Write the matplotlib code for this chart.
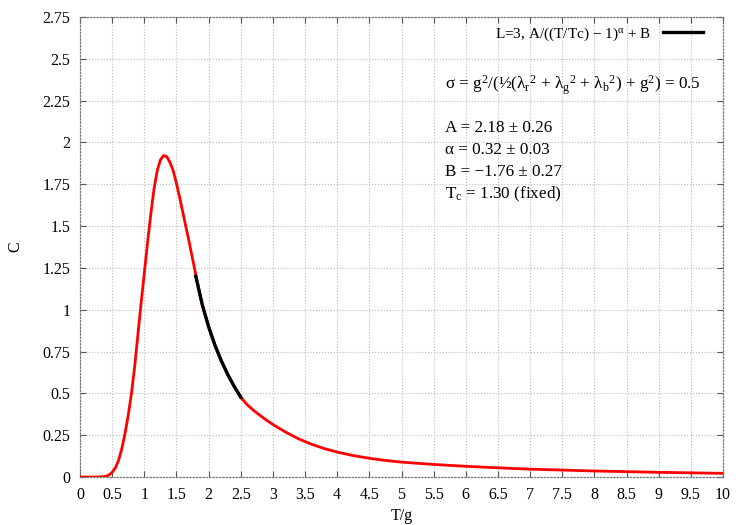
"""Specific heat C(T/g) for L=3 with the critical power-law fit segment."""

import matplotlib

matplotlib.use("Agg")
import matplotlib.pyplot as plt

t_data = [0.0, 0.3, 0.4, 0.45, 0.5, 0.55, 0.6, 0.65, 0.7, 0.75, 0.8, 0.85,
          0.9, 0.95, 1.0, 1.05, 1.1, 1.15, 1.2, 1.25, 1.3, 1.35, 1.4, 1.45,
          1.5, 1.55, 1.6, 1.65, 1.7, 1.75, 1.8, 1.9, 2.0, 2.1, 2.2, 2.3,
          2.4, 2.5, 2.6, 2.7, 2.8, 2.9, 3.0, 3.2, 3.4, 3.6, 3.8, 4.0, 4.25,
          4.5, 4.75, 5.0, 5.5, 6.0, 6.5, 7.0, 8.0, 9.0, 10.0]
c_data = [0.0, 0.0, 0.004, 0.012, 0.028, 0.055, 0.10, 0.17, 0.26, 0.37,
          0.50, 0.66, 0.85, 1.04, 1.22, 1.40, 1.57, 1.72, 1.83, 1.895,
          1.922, 1.915, 1.88, 1.83, 1.755, 1.67, 1.58, 1.49, 1.40, 1.305,
          1.21, 1.03, 0.90, 0.786, 0.692, 0.611, 0.54, 0.477, 0.432, 0.398,
          0.368, 0.34, 0.314, 0.268, 0.228, 0.196, 0.170, 0.149, 0.128,
          0.112, 0.099, 0.089, 0.075, 0.064, 0.055, 0.047, 0.036, 0.028,
          0.022]

# fit segment A/((T/Tc)-1)^alpha + B, sampled on its fit window
t_fit = [1.8, 1.9, 2.0, 2.1, 2.2, 2.3, 2.4, 2.5]
c_fit = [1.20, 1.032, 0.898, 0.786, 0.692, 0.611, 0.540, 0.477]

x_ticks = [i * 0.5 for i in range(21)]
y_ticks = [i * 0.25 for i in range(12)]
x_labels = ["0", "0.5", "1", "1.5", "2", "2.5", "3", "3.5", "4", "4.5", "5",
            "5.5", "6", "6.5", "7", "7.5", "8", "8.5", "9", "9.5", "10"]
y_labels = ["0", "0.25", "0.5", "0.75", "1", "1.25", "1.5", "1.75", "2",
            "2.25", "2.5", "2.75"]

plt.rcParams["font.family"] = ["Liberation Serif", "DejaVu Serif"]
plt.rcParams["mathtext.fontset"] = "custom"
plt.rcParams["mathtext.rm"] = "Liberation Serif"
plt.rcParams["mathtext.it"] = "Liberation Serif"
plt.rcParams["font.size"] = 11.5

fig = plt.figure(figsize=(7.5, 5.25), dpi=100)
ax = fig.add_axes([0.1067, 0.0914, 0.8573, 0.8762])

ax.plot(t_data, c_data, color="#ff0000", lw=2.0, zorder=3)
ax.plot(t_fit, c_fit, color="black", lw=2.4, zorder=4,
        label="L=3, A/((T/Tc) \u2212 1)$^{\\alpha}$ + B")

ax.set_xlim(0, 10)
ax.set_ylim(0, 2.75)
ax.set_xticks(x_ticks)
ax.set_xticklabels(x_labels)
ax.set_yticks(y_ticks)
ax.set_yticklabels(y_labels)
ax.tick_params(direction="in", length=4, width=0.8, color="#555555",
               top=True, right=True, pad=7)
ax.grid(True, linestyle=":", color="#bbbbbb", lw=0.8)
for sp in ax.spines.values():
    sp.set_linestyle(":")
    sp.set_color("#777777")
    sp.set_linewidth(0.9)

ax.set_xlabel("T/g", labelpad=4)
ax.set_ylabel("C", labelpad=14)

leg = ax.legend(loc="upper right", frameon=False, markerfirst=False,
                handlelength=2.6, bbox_to_anchor=(0.99, 1.012), fontsize=11)

ax.text(0.567, 0.852,
        "\u03c3 = g$^{2}$/(\u00bd(\u03bb$_{\\mathrm{r}}{}^{2}$ + \u03bb$_{\\mathrm{g}}{}^{2}$"
        " + \u03bb$_{\\mathrm{b}}{}^{2}$) + g$^{2}$) = 0.5",
        transform=ax.transAxes, fontsize=12.3, va="center")
fit_lines = ["A = 2.18 \u00b1 0.26", "\u03b1 = 0.32 \u00b1 0.03",
             "B = \u22121.76 \u00b1 0.27", "T$_{\\mathrm{c}}$ = 1.30 (fixed)"]
for i, s in enumerate(fit_lines):
    ax.text(0.567, 0.7587 - i * 0.0478, s, transform=ax.transAxes,
            fontsize=12.3, va="center")

fig.savefig("out.png", dpi=100)
